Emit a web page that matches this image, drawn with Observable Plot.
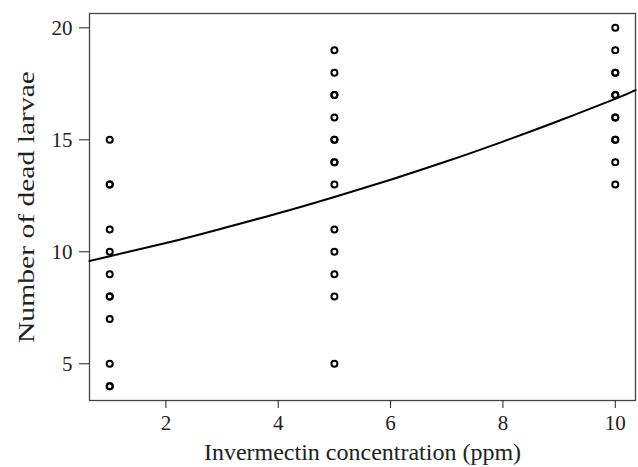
<!DOCTYPE html>
<html><head><meta charset="utf-8">
<script src="https://cdn.jsdelivr.net/npm/d3@7"></script>
<script src="https://cdn.jsdelivr.net/npm/@observablehq/plot@0.6"></script>
<style>body{margin:0;background:#fff}</style>
</head><body><div id="chart"></div>
<script>
// Observed data: concentration (ppm) and number of dead larvae
const concentration = [
  1,1,1,1,1,1,1,1,1,1,1,1,
  5,5,5,5,5,5,5,5,5,5,5,5,5,5,5,
  10,10,10,10,10,10,10,10,10,10,10,10
];
const deadLarvae = [
  15,13,13,11,10,9,8,8,7,5,4,4,
  19,18,17,17,16,15,15,14,14,13,11,10,9,8,5,
  20,19,18,18,17,17,16,16,15,15,14,13
];
// Fitted curve, values
const fitX = [0.64, 2, 3, 4, 5, 6, 7, 8, 9, 10, 10.36];
const fitY = [9.59, 10.39, 11.04, 11.72, 12.45, 13.22, 14.04, 14.92, 15.85, 16.83, 17.22];
const xTicks = [2, 4, 6, 8, 10];
const yTicks = [5, 10, 15, 20];
const xTitle = "Invermectin concentration (ppm)";
const yTitle = "Number of dead larvae";

const points = concentration.map((c, i) => ({x: c, y: deadLarvae[i]}));
const fit = fitX.map((x, i) => ({x, y: fitY[i]}));

const chart = Plot.plot({
  width: 638,
  height: 467,
  marginLeft: 89,
  marginRight: 3,
  marginTop: 13,
  marginBottom: 67,
  style: {fontFamily: "'Liberation Serif', serif", color: "#222", background: "#fff"},
  x: {domain: [0.64, 10.36]},
  y: {domain: [3.36, 20.64]},
  marks: [
    Plot.frame({stroke: "#444", strokeWidth: 1.3}),
    Plot.axisX({ticks: xTicks, tickSize: 8, tickPadding: 7, fontSize: 21, label: null, tickFormat: d => d}),
    Plot.axisY({ticks: yTicks, tickSize: 10, tickPadding: 7, fontSize: 21, label: null, tickFormat: d => d}),
    Plot.line(fit, {x: "x", y: "y", stroke: "#000", strokeWidth: 2, curve: "natural"}),
    Plot.dot(points, {x: "x", y: "y", r: 3, stroke: "#000", strokeWidth: 2, fill: "none"}),
    Plot.text([xTitle], {text: d => d, frameAnchor: "bottom", dy: 59, fontSize: 24, fill: "#222"}),
    Plot.text([yTitle], {text: d => d, frameAnchor: "left", textAnchor: "middle", lineAnchor: "middle", dx: -63, rotate: -90, fontSize: 24, fill: "#222"})
  ]
});
// stretch the y title along its length to match the reference's proportions
for (const t of chart.querySelectorAll("text")) {
  if (t.textContent === yTitle) {
    t.setAttribute("textLength", 272);
    t.setAttribute("lengthAdjust", "spacingAndGlyphs");
  }
}
document.getElementById("chart").appendChild(chart);
</script>
</body></html>
